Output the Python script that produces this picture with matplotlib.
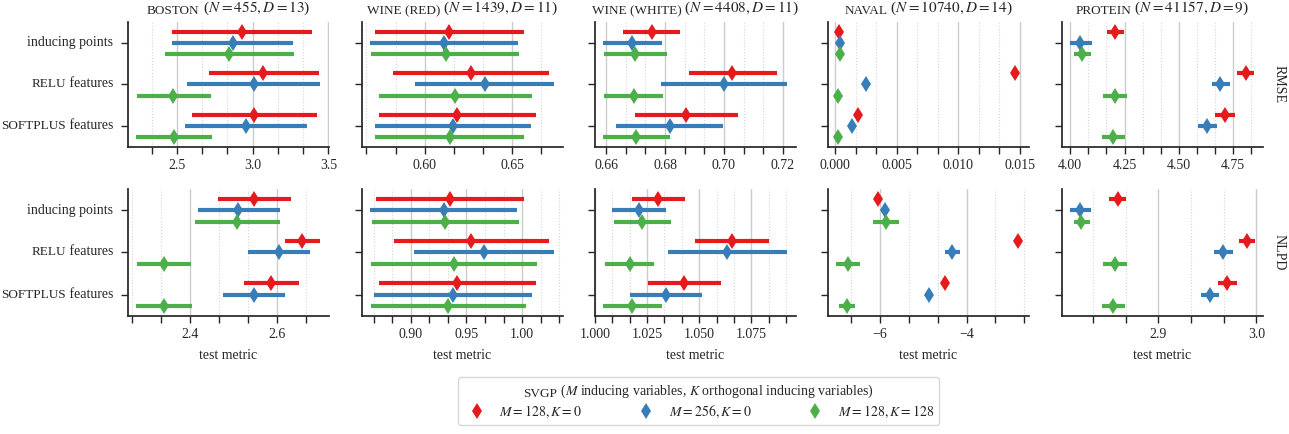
"""
SVGP comparison on UCI regression datasets (RMSE / NLPD)
"""

import matplotlib
matplotlib.use('Agg')
import matplotlib.pyplot as plt
from matplotlib.lines import Line2D
from matplotlib.text import Annotation
from matplotlib.ticker import AutoMinorLocator, MultipleLocator, ScalarFormatter

plt.rcParams['font.family'] = 'serif'
plt.rcParams['font.serif'] = ['Liberation Serif', 'DejaVu Serif']
plt.rcParams['mathtext.fontset'] = 'stix'

# rows: variant (M=128,K=0 / M=256,K=0 / M=128,K=128); cols: inducing points, RELU, SOFTPLUS
boston_rmse_mean = [[2.930, 3.070, 3.011], [2.871, 3.007, 2.956], [2.846, 2.478, 2.482]]
boston_rmse_lo = [[2.469, 2.713, 2.601], [2.469, 2.566, 2.555], [2.421, 2.237, 2.232]]
boston_rmse_hi = [[3.390, 3.436, 3.425], [3.268, 3.447, 3.360], [3.274, 2.726, 2.735]]

winered_rmse_mean = [[0.6141, 0.6267, 0.6183], [0.6111, 0.6344, 0.6164], [0.6120, 0.6176, 0.6145]]
winered_rmse_lo = [[0.5714, 0.5817, 0.5739], [0.5689, 0.5947, 0.5718], [0.5695, 0.5739, 0.5718]]
winered_rmse_hi = [[0.6571, 0.6714, 0.6636], [0.6532, 0.6742, 0.6611], [0.6542, 0.6615, 0.6571]]

winewhite_rmse_mean = [[0.6754, 0.7028, 0.6871], [0.6687, 0.6999, 0.6816], [0.6699, 0.6693, 0.6703]]
winewhite_rmse_lo = [[0.6656, 0.6881, 0.6697], [0.6588, 0.6786, 0.6635], [0.6592, 0.6593, 0.6588]]
winewhite_rmse_hi = [[0.6852, 0.7180, 0.7047], [0.6790, 0.7215, 0.6997], [0.6807, 0.6793, 0.6817]]

naval_rmse_mean = [[0.00027, 0.01465, 0.00184], [0.00035, 0.00251, 0.00132], [0.00038, 0.00019, 0.00019]]
naval_rmse_lo = [[0.00025, 0.01462, 0.00181], [0.00033, 0.00248, 0.00129], [0.00036, 0.00017, 0.00017]]
naval_rmse_hi = [[0.00029, 0.01468, 0.00187], [0.00037, 0.00254, 0.00135], [0.00040, 0.00021, 0.00021]]

protein_rmse_mean = [[4.208, 4.810, 4.712], [4.047, 4.692, 4.631], [4.052, 4.208, 4.199]]
protein_rmse_lo = [[4.168, 4.769, 4.666], [3.998, 4.652, 4.588], [4.015, 4.152, 4.147]]
protein_rmse_hi = [[4.247, 4.848, 4.758], [4.100, 4.738, 4.674], [4.095, 4.263, 4.254]]

boston_nlpd_mean = [[2.547, 2.657, 2.586], [2.511, 2.604, 2.547], [2.508, 2.339, 2.340]]
boston_nlpd_lo = [[2.463, 2.618, 2.524], [2.418, 2.533, 2.475], [2.412, 2.278, 2.276]]
boston_nlpd_hi = [[2.632, 2.699, 2.650], [2.607, 2.675, 2.619], [2.607, 2.402, 2.405]]

winered_nlpd_mean = [[0.9348, 0.9541, 0.9411], [0.9294, 0.9658, 0.9378], [0.9309, 0.9387, 0.9336]]
winered_nlpd_lo = [[0.8685, 0.8844, 0.8709], [0.8634, 0.9030, 0.8664], [0.8646, 0.8640, 0.8640]]
winered_nlpd_hi = [[1.0015, 1.0240, 1.0123], [0.9955, 1.0291, 1.0090], [0.9970, 1.0135, 1.0036]]

winewhite_nlpd_mean = [[1.0304, 1.0656, 1.0428], [1.0212, 1.0635, 1.0339], [1.0225, 1.0167, 1.0180]]
winewhite_nlpd_lo = [[1.0180, 1.0479, 1.0253], [1.0084, 1.0352, 1.0166], [1.0089, 1.0049, 1.0038]]
winewhite_nlpd_hi = [[1.0430, 1.0833, 1.0604], [1.0341, 1.0922, 1.0513], [1.0366, 1.0285, 1.0322]]

naval_nlpd_mean = [[-6.031, -2.820, -4.498], [-5.870, -4.330, -4.858], [-5.854, -6.728, -6.751]]
naval_nlpd_lo = [[-6.041, -2.830, -4.508], [-5.900, -4.498, -4.868], [-6.161, -7.004, -6.943]]
naval_nlpd_hi = [[-6.021, -2.810, -4.488], [-5.840, -4.153, -4.848], [-5.563, -6.452, -6.567]]

protein_nlpd_mean = [[2.8585, 2.9905, 2.9700], [2.8204, 2.9660, 2.9527], [2.8214, 2.8561, 2.8540]]
protein_nlpd_lo = [[2.8500, 2.9827, 2.9610], [2.8100, 2.9570, 2.9439], [2.8140, 2.8440, 2.8430]]
protein_nlpd_hi = [[2.8670, 2.9990, 2.9800], [2.8310, 2.9759, 2.9622], [2.8300, 2.8680, 2.8660]]

SC = 9.5  # size used to fake small caps
methods = [[('inducing points', 10)], [('RELU', SC), (' features', 10)], [('SOFTPLUS', SC), (' features', 10)]]
variants = ['$M = 128, K = 0$', '$M = 256, K = 0$', '$M = 128, K = 128$']
colors = ['#e41a1c', '#377eb8', '#4daf4a']
titles = [('BOSTON', ' ($N = 455, D = 13$)'),
          ('WINE (RED)', ' ($N = 1439, D = 11$)'),
          ('WINE (WHITE)', ' ($N = 4408, D = 11$)'),
          ('NAVAL', ' ($N = 10740, D = 14$)'),
          ('PROTEIN', ' ($N = 41157, D = 9$)')]
legend_title = ' ($M$ inducing variables, $K$ orthogonal inducing variables)'

rmse = [(boston_rmse_mean, boston_rmse_lo, boston_rmse_hi),
        (winered_rmse_mean, winered_rmse_lo, winered_rmse_hi),
        (winewhite_rmse_mean, winewhite_rmse_lo, winewhite_rmse_hi),
        (naval_rmse_mean, naval_rmse_lo, naval_rmse_hi),
        (protein_rmse_mean, protein_rmse_lo, protein_rmse_hi)]
nlpd = [(boston_nlpd_mean, boston_nlpd_lo, boston_nlpd_hi),
        (winered_nlpd_mean, winered_nlpd_lo, winered_nlpd_hi),
        (winewhite_nlpd_mean, winewhite_nlpd_lo, winewhite_nlpd_hi),
        (naval_nlpd_mean, naval_nlpd_lo, naval_nlpd_hi),
        (protein_nlpd_mean, protein_nlpd_lo, protein_nlpd_hi)]

rmse_xlim = [(2.178, 3.504), (0.5641, 0.6792), (0.6562, 0.7245), (-0.000595, 0.015757), (3.962, 4.888)]
nlpd_xlim = [(2.2573, 2.719), (0.8559, 1.0369), (1.000, 1.0965), (-7.195, -2.559), (2.8017, 3.0068)]
rmse_major = [0.5, 0.05, 0.02, 0.005, 0.25]
nlpd_major = [0.2, 0.05, 0.025, 2, 0.1]

dodge = [-0.27, 0.0, 0.27]

groups = []  # chained small-caps texts that are aligned after a first draw


def chained_text(fig, xy, xycoords, parts, halign, valign, pad):
    """Text pieces of different sizes laid end to end (fake small caps)"""
    texts = []
    prev = None
    for s, size in parts:
        if prev is None:
            t = Annotation(s, xy=xy, xycoords=xycoords, xytext=pad,
                           textcoords='offset pixels', ha='left', va='bottom',
                           fontsize=size, color='#262626', annotation_clip=False)
        else:
            t = Annotation(s, xy=(1, 0), xycoords=prev, ha='left', va='bottom',
                           fontsize=size, color='#262626', annotation_clip=False)
        t.set_zorder(10)
        fig.add_artist(t)
        texts.append(t)
        prev = t
    groups.append((texts, halign, valign, pad))


def draw_panel(ax, data, xlim, major):
    mean, lo, hi = data
    for v in range(3):
        for m in range(3):
            y = m + dodge[v]
            ax.plot([lo[v][m], hi[v][m]], [y, y], color=colors[v], lw=3,
                    solid_capstyle='butt', zorder=3)
            ax.plot(mean[v][m], y, marker='d', color=colors[v], markersize=8,
                    markeredgewidth=0, zorder=4)
    ax.set_xlim(*xlim)
    ax.set_ylim(2.5, -0.5)
    ax.xaxis.set_major_locator(MultipleLocator(major))
    ax.xaxis.set_minor_locator(AutoMinorLocator(3))
    ax.xaxis.set_major_formatter(ScalarFormatter(useOffset=False))
    ax.set_yticks([0, 1, 2])
    ax.set_yticklabels([])
    ax.grid(True, axis='x', which='major', color='#cccccc', lw=1, zorder=0)
    ax.grid(True, axis='x', which='minor', color='#d5d5d5', lw=0.8, ls=':', zorder=0)
    ax.set_axisbelow(True)
    for side in ['top', 'right']:
        ax.spines[side].set_visible(False)
    for side in ['left', 'bottom']:
        ax.spines[side].set_linewidth(1.25)
        ax.spines[side].set_color('#262626')
    ax.tick_params(axis='both', which='both', length=5, width=1, color='#262626',
                   labelsize=10, labelcolor='#262626')


fig = plt.figure(figsize=(12.89, 4.34), dpi=100)
W, H = 1289, 434
lefts = [128, 362, 595, 828, 1062]
width = 201

for row, (metric, rows_data, xlims, majors) in enumerate(
        [('RMSE', rmse, rmse_xlim, rmse_major), ('NLPD', nlpd, nlpd_xlim, nlpd_major)]):
    top, bottom = (22, 147) if row == 0 else (189, 316)
    for col in range(5):
        ax = fig.add_axes([lefts[col] / W, 1 - bottom / H, width / W, (bottom - top) / H])
        draw_panel(ax, rows_data[col], xlims[col], majors[col])
        if row == 0:
            sc, rest = titles[col]
            chained_text(fig, (0.5, 1.0), ax.transAxes, [(sc, SC), (rest, 11)],
                         0.5, 0.0, (0, 5))
        else:
            ax.set_xlabel('test metric', fontsize=10, color='#262626', labelpad=6)
        if col == 0:
            for m, parts in enumerate(methods):
                chained_text(fig, (0, m), ax.get_yaxis_transform(), parts, 1.0, 0.5, (-15, 0))
        if col == 4:
            ax.text(1.045, 0.5, metric, transform=ax.transAxes, rotation=270,
                    ha='left', va='center', fontsize=10, color='#262626')

handles = [Line2D([], [], marker='d', color=c, linestyle='none', markersize=8,
                  markeredgewidth=0) for c in colors]
# the legend title only reserves room; the visible title is drawn below with small caps
leg = fig.legend(handles, variants, loc='lower center', bbox_to_anchor=(0.542, 0.005),
                 ncol=3, fontsize=10, frameon=True, columnspacing=3.6, handletextpad=0.6,
                 title='SVGP' + legend_title, title_fontsize=10, borderpad=0.35,
                 labelspacing=0.3, fancybox=True)
leg.get_frame().set_edgecolor('#cccccc')
for t in leg.get_texts():
    t.set_color('#262626')

fig.canvas.draw()
renderer = fig.canvas.get_renderer()
tb = leg.get_title().get_window_extent(renderer)
leg.get_title().set_visible(False)
chained_text(fig, ((tb.x0 + tb.x1) / 2, tb.y0), 'figure pixels',
             [('SVGP', SC), (legend_title, 10)], 0.5, 0.0, (0, 0))

# align the chained small-caps texts now that their sizes are known
for texts, halign, valign, pad in groups:
    b0 = texts[0].get_window_extent(renderer)
    b1 = texts[-1].get_window_extent(renderer)
    w = b1.x1 - b0.x0
    h = b0.height
    texts[0].xyann = (pad[0] - halign * w, pad[1] - valign * h)

fig.savefig('out.png', dpi=100)
